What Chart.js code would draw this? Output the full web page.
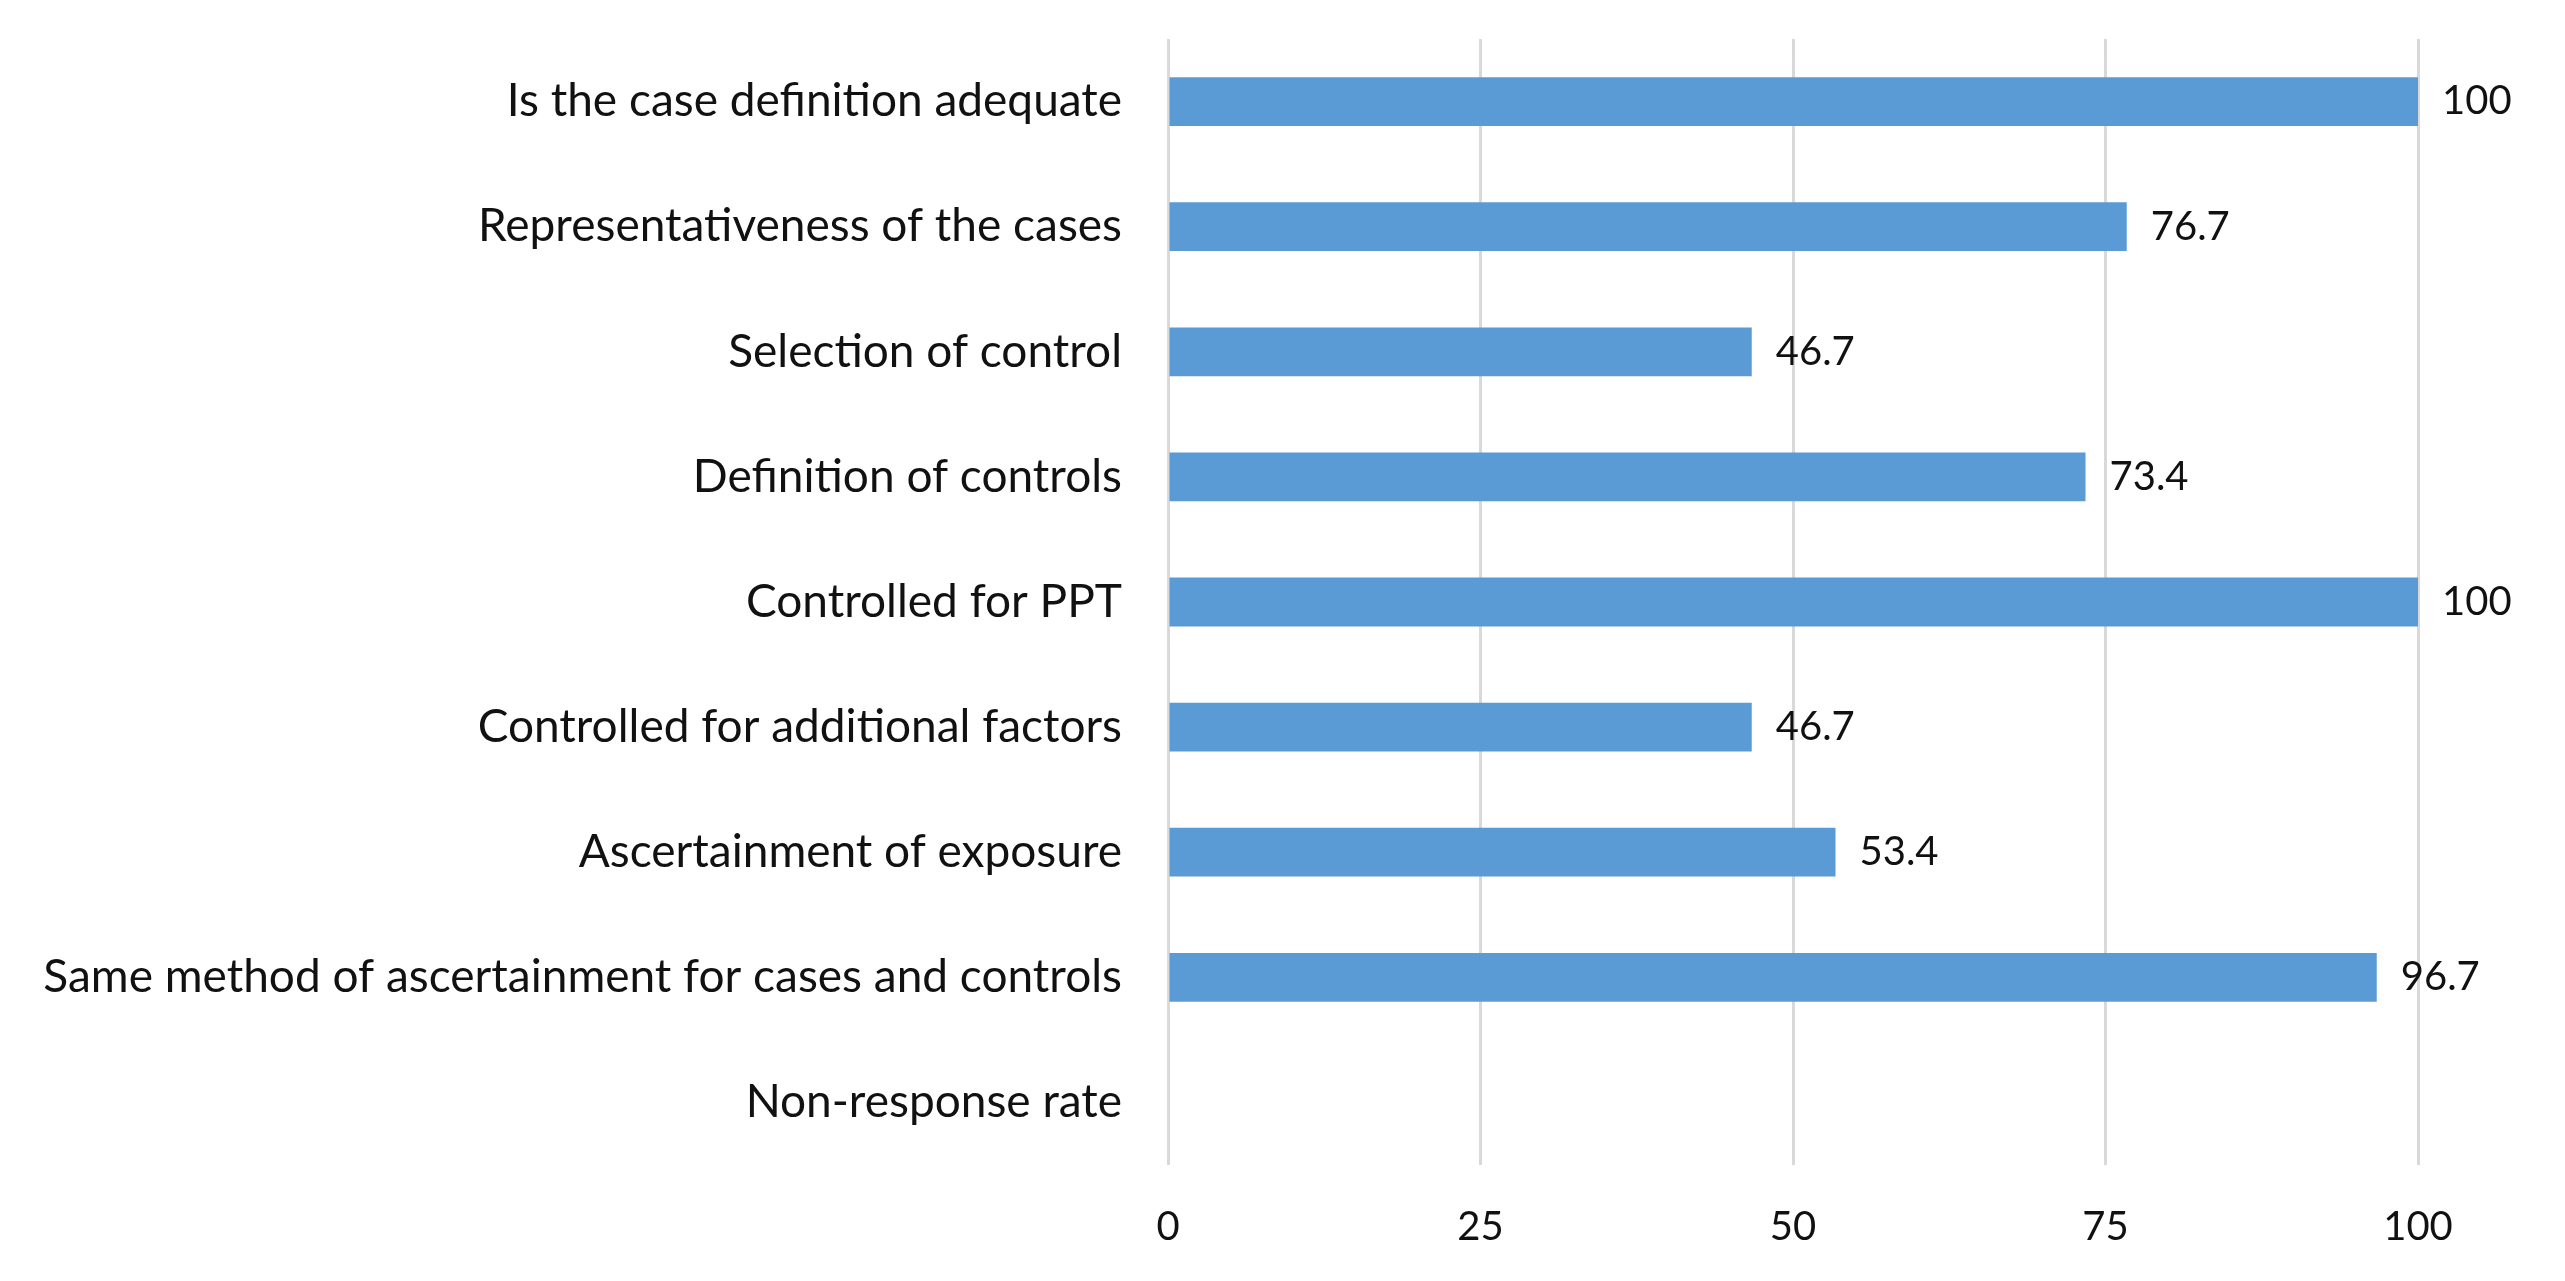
<!DOCTYPE html>
<html lang="en">
<head>
<meta charset="UTF-8">
<title>Quality assessment</title>
<script src="https://cdn.jsdelivr.net/npm/chart.js@4.4.0/dist/chart.umd.min.js"></script>
<style>
    html, body { margin: 0; padding: 0; background: #fff; }
    #wrap { width: 2565px; height: 1281px; }
</style>
</head>
<body>
<div id="wrap"><canvas id="chart"></canvas></div>
<script>
// Data
const categories = [
    'Is the case definition adequate',
    'Representativeness of the cases',
    'Selection of control',
    'Definition of controls',
    'Controlled for PPT',
    'Controlled for additional factors',
    'Ascertainment of exposure',
    'Same method of ascertainment for cases and controls',
    'Non-response rate'
];
const percentages = [100, 76.7, 46.7, 73.4, 100, 46.7, 53.4, 96.7, null];
const xTicks = [0, 25, 50, 75, 100];

const FONT = 'Lato, "Open Sans", sans-serif';

// simple value labels at the end of each bar
const valueLabels = {
    id: 'valueLabels',
    afterDatasetsDraw(chart) {
        const ctx = chart.ctx;
        const meta = chart.getDatasetMeta(0);
        ctx.save();
        ctx.font = '40px ' + FONT;
        ctx.fillStyle = '#111';
        ctx.textAlign = 'left';
        ctx.textBaseline = 'middle';
        meta.data.forEach((bar, i) => {
            const v = percentages[i];
            if (v === null) return;
            ctx.fillText(String(v), bar.x + 24, bar.y);
        });
        ctx.restore();
    }
};

new Chart(document.getElementById('chart'), {
    type: 'bar',
    data: {
        labels: categories,
        datasets: [{
            data: percentages,
            backgroundColor: '#5b9bd5',
            borderWidth: 0,
            categoryPercentage: 1,
            barPercentage: 0.39
        }]
    },
    options: {
        indexAxis: 'y',
        responsive: true,
        maintainAspectRatio: false,
        animation: false,
        layout: { padding: { top: 39, right: 147, bottom: 0, left: 0 } },
        plugins: {
            legend: { display: false },
            tooltip: { enabled: false }
        },
        scales: {
            x: {
                min: 0,
                max: 100,
                afterBuildTicks: axis => { axis.ticks = xTicks.map(v => ({ value: v })); },
                afterFit: axis => { axis.height = 116; },
                grid: { color: '#d9d9d9', lineWidth: 3, drawTicks: false },
                border: { display: false },
                ticks: {
                    padding: 38,
                    color: '#111',
                    font: { family: FONT, size: 40 }
                }
            },
            y: {
                afterFit: axis => {
                    axis.width = 1168;
                    axis.paddingTop = 0;
                    axis.paddingBottom = 0;
                },
                grid: { display: false, drawTicks: false },
                border: { display: false },
                ticks: {
                    padding: 46,
                    color: '#111',
                    font: { family: FONT, size: 46 }
                }
            }
        }
    },
    plugins: [valueLabels]
});
</script>
</body>
</html>
